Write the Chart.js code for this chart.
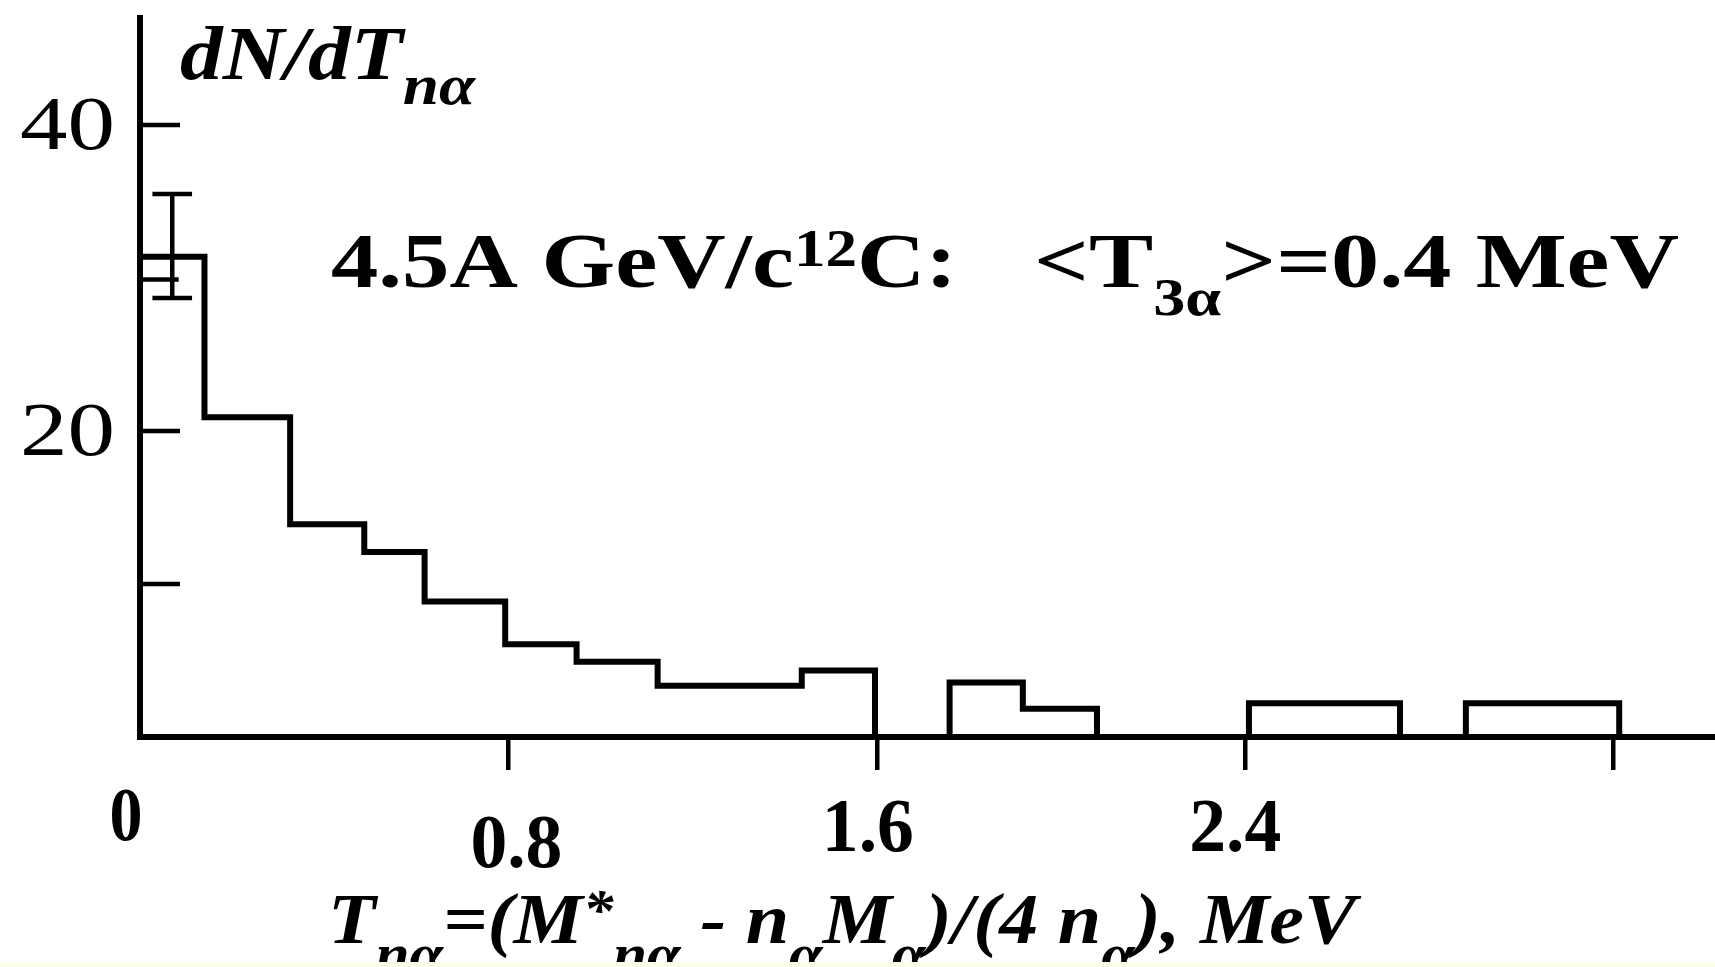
<!DOCTYPE html>
<html><head><meta charset="utf-8">
<script src="https://cdn.jsdelivr.net/npm/chart.js@4.4.0/dist/chart.umd.min.js"></script>
<style>html,body{margin:0;padding:0;background:#fff;overflow:hidden}canvas{display:block}</style>
</head><body>
<canvas id="c" width="1715" height="967"></canvas>
<script>
// ---- data ----
const binEdges  = [0, 0.14, 0.326, 0.487, 0.618, 0.793, 0.948, 1.124, 1.437, 1.596, 1.758, 1.917, 2.078, 2.408, 2.736, 2.879, 3.212];
const binCounts = [31.4, 20.9, 13.9, 12.1, 8.85, 6.07, 4.92, 3.35, 4.35, 0, 3.56, 1.84, 0, 2.2, 0, 2.2];
const errX = 0.07;
const errLow = 28.7;
const errHigh = 35.5;
const errMark = 29.9;
const xTickValues = [0.8, 1.6, 2.4, 3.2];
const xTickLabels = ['0.8', '1.6', '2.4', ''];
const yTickValues = [10, 20, 40];
const yTickLabels = ['', '20', '40'];

// ---- build datasets ----
const histPoints = [{x: binEdges[0], y: 0}];
binCounts.forEach((c, i) => histPoints.push({x: binEdges[i], y: c}));
histPoints.push({x: binEdges[binEdges.length - 1], y: 0});

const capHalf = 0.043;
const markEnd = 0.084;

const SERIF = '"Liberation Serif", "Times New Roman", serif';
const B  = n => `bold ${n}px ${SERIF}`;
const BI = n => `italic bold ${n}px ${SERIF}`;
const R  = n => `${n}px ${SERIF}`;

function drawRich(ctx, x, y, segs, targetW, align) {
  let w = 0;
  segs.forEach(s => { ctx.font = s.f; s.w = ctx.measureText(s.t).width; w += s.w; });
  const sx = targetW ? targetW / w : 1;
  ctx.save();
  ctx.translate(x, y);
  ctx.scale(sx, 1);
  let cx = align === 'center' ? -w / 2 : align === 'right' ? -w : 0;
  ctx.textBaseline = 'alphabetic';
  ctx.textAlign = 'left';
  ctx.fillStyle = '#000';
  segs.forEach(s => { ctx.font = s.f; ctx.fillText(s.t, cx, s.dy || 0); cx += s.w; });
  ctx.restore();
}

const xLabelLayout = [{dx: 8, base: 867}, {dx: -9, base: 851}, {dx: -10, base: 851}, {dx: 0, base: 851}];
const yLabelLayout = {right: 115, dy: 24};

const decor = {
  id: 'decor',
  beforeDraw(chart) {
    const ctx = chart.ctx;
    ctx.save();
    ctx.fillStyle = '#ffffff';
    ctx.fillRect(0, 0, chart.width, chart.height);
    ctx.restore();
  },
  afterDatasetsDraw(chart) {
    const ctx = chart.ctx;
    const ys = chart.scales.y;
    const left = chart.chartArea.left;
    ctx.save();
    ctx.strokeStyle = '#000';
    ctx.lineWidth = 4.5;
    yTickValues.forEach(v => {
      const py = ys.getPixelForValue(v);
      ctx.beginPath(); ctx.moveTo(left, py); ctx.lineTo(left + 40, py); ctx.stroke();
    });
    ctx.restore();
  },
  afterDraw(chart) {
    const ctx = chart.ctx;
    const xs = chart.scales.x, ys = chart.scales.y;
    // y axis title
    drawRich(ctx, 180, 79, [{t: 'dN/dT', f: BI(76)}, {t: 'nα', f: BI(58), dy: 25}], 295);
    // annotation
    drawRich(ctx, 331, 287, [{t: '4.5A GeV/c', f: B(78)}, {t: '12', f: B(52), dy: -21}, {t: 'C:', f: B(78)}], 626);
    drawRich(ctx, 1034, 287, [{t: '<T', f: B(78)}, {t: '3α', f: B(52), dy: 28}, {t: '>=0.4 MeV', f: B(78)}], 645);
    // y tick labels
    yTickValues.forEach((v, i) => {
      if (!yTickLabels[i]) return;
      drawRich(ctx, yLabelLayout.right, ys.getPixelForValue(v) + yLabelLayout.dy, [{t: yTickLabels[i], f: R(76)}], 95, 'right');
    });
    // x tick labels
    drawRich(ctx, xs.getPixelForValue(0) - 14, 840, [{t: '0', f: B(76)}], 33, 'center');
    xTickValues.forEach((v, i) => {
      if (!xTickLabels[i]) return;
      const L = xLabelLayout[i];
      drawRich(ctx, xs.getPixelForValue(v) + L.dx, L.base, [{t: xTickLabels[i], f: B(76)}], 92, 'center');
    });
    // x axis title
    const S = 72, s = 56, d = 30;
    drawRich(ctx, 328, 943, [
      {t: 'T', f: BI(S)}, {t: 'nα', f: BI(s), dy: d},
      {t: '=(M', f: BI(S)}, {t: '*', f: BI(s), dy: -14}, {t: 'nα', f: BI(s), dy: d},
      {t: ' - ', f: BI(S)}, {t: 'n', f: BI(S)}, {t: 'α', f: BI(s), dy: d},
      {t: 'M', f: BI(S)}, {t: 'α', f: BI(s), dy: d},
      {t: ')/(4 n', f: BI(S)}, {t: 'α', f: BI(s), dy: d},
      {t: '), MeV', f: BI(S)}
    ], 1028);
    // pale strip at the very bottom
    ctx.save();
    ctx.fillStyle = '#fdfdeb';
    ctx.fillRect(0, 962, chart.width, 5);
    ctx.restore();
  }
};

const lineStyle = {showLine: true, pointRadius: 0, borderColor: '#000', fill: false, clip: 12, borderJoinStyle: 'miter', borderCapStyle: 'butt'};

new Chart(document.getElementById('c'), {
  type: 'scatter',
  data: {
    datasets: [
      Object.assign({label: 'hist', data: histPoints, stepped: 'before', borderWidth: 6}, lineStyle),
      Object.assign({label: 'err', data: [{x: errX, y: errLow}, {x: errX, y: errHigh}], borderWidth: 4.5}, lineStyle),
      Object.assign({label: 'capHi', data: [{x: errX - capHalf, y: errHigh}, {x: errX + capHalf, y: errHigh}], borderWidth: 4.5}, lineStyle),
      Object.assign({label: 'capLo', data: [{x: errX - capHalf, y: errLow}, {x: errX + capHalf, y: errLow}], borderWidth: 4.5}, lineStyle),
      Object.assign({label: 'mark', data: [{x: 0, y: errMark}, {x: markEnd, y: errMark}], borderWidth: 4.5}, lineStyle)
    ]
  },
  options: {
    responsive: false,
    animation: false,
    devicePixelRatio: 1,
    layout: {padding: {left: 140, top: 18, right: 0, bottom: 197}},
    plugins: {legend: {display: false}, tooltip: {enabled: false}},
    scales: {
      x: {
        type: 'linear', min: 0, max: 3.42,
        ticks: {display: false},
        grid: {drawOnChartArea: false, drawTicks: true, tickLength: 33, lineWidth: 4.5, color: '#000'},
        border: {display: true, width: 6, color: '#000'},
        afterBuildTicks: sc => { sc.ticks = xTickValues.map(v => ({value: v})); }
      },
      y: {
        type: 'linear', min: 0, max: 47,
        ticks: {display: false},
        grid: {drawOnChartArea: false, drawTicks: false},
        border: {display: true, width: 6, color: '#000'},
        afterBuildTicks: sc => { sc.ticks = yTickValues.map(v => ({value: v})); }
      }
    }
  },
  plugins: [decor]
});
</script>
</body></html>
